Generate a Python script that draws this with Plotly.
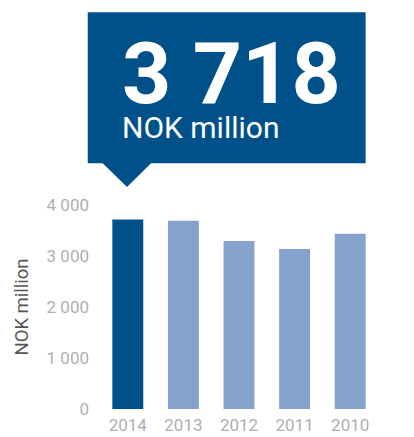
import plotly.graph_objects as go

years = ["2014", "2013", "2012", "2011", "2010"]
values = [3718, 3690, 3294, 3137, 3437]
bar_colors = ["#00518A", "#84A2CC", "#84A2CC", "#84A2CC", "#84A2CC"]
y_tickvals = [0, 1000, 2000, 3000, 4000]
y_ticktext = ["0", "1 000", "2 000", "3 000", "4 000"]
headline_unit = "NOK million"
y_title = "NOK million"

W, H = 414, 437
L, R = 99.6, 378.4
TOP, BOT = 205, 409

def px(x):
    return (x - L) / (R - L)

def py(y):
    return (BOT - y) / (BOT - TOP)

fig = go.Figure(go.Bar(
    x=years, y=values, marker=dict(color=bar_colors, line=dict(width=0)),
    hoverinfo="skip",
))

box_color = "#00518A"
fig.add_shape(type="rect", xref="paper", yref="paper",
              x0=px(87.3), x1=px(366), y0=py(163.3), y1=py(12.3),
              fillcolor=box_color, line=dict(width=0), layer="above")
path = "M {} {} L {} {} L {} {} Z".format(px(102), py(163), px(151), py(163), px(126.7), py(187))
fig.add_shape(type="path", xref="paper", yref="paper", path=path,
              fillcolor=box_color, line=dict(width=0), layer="above")

headline = "{:,}".format(values[0]).replace(",", " ")
callout_text = ("<span style='font-size:86px'><b>" + headline + "</b></span><br>"
                "<span style='font-size:30px'>" + headline_unit + "</span>")
fig.add_annotation(xref="paper", yref="paper", x=px(120), y=py(147), xanchor="left", yanchor="bottom",
                   align="left", text=callout_text, showarrow=False,
                   font=dict(family="Roboto", size=27, color="white"))

fig.update_layout(
    width=W, height=H,
    margin=dict(l=L, r=W - R, t=TOP, b=H - BOT),
    paper_bgcolor="white", plot_bgcolor="white",
    showlegend=False, bargap=0.444,
    font=dict(family="Roboto", color="#AFAFAF", size=17),
)
fig.update_xaxes(showgrid=False, showline=False, zeroline=False, ticks="", automargin=False,
                 tickfont=dict(size=17, color="#AFAFAF"), ticklabelstandoff=4)
fig.update_yaxes(range=[0, 4000], showgrid=False, showline=False, zeroline=False, automargin=False,
                 tickvals=y_tickvals, ticktext=y_ticktext, ticks="",
                 tickfont=dict(size=17, color="#AFAFAF"), ticklabelstandoff=10,
                 title=dict(text=y_title, font=dict(size=18.5, color="#555555"), standoff=13))

fig.write_html("out.html")
